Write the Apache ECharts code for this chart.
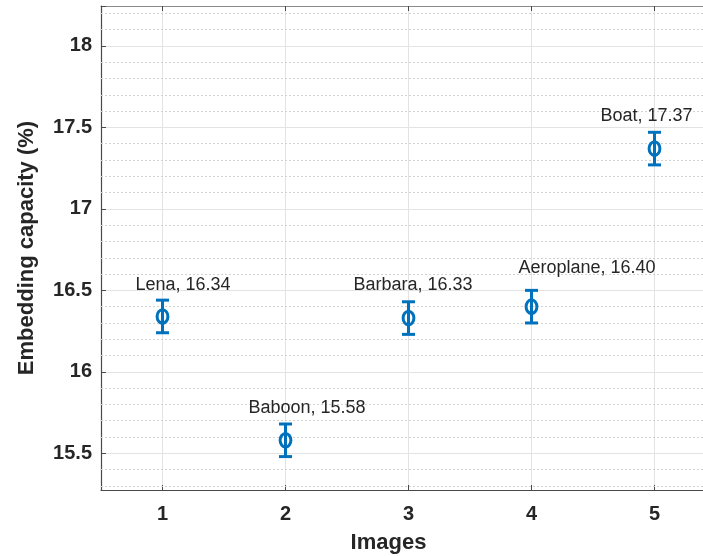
<!DOCTYPE html>
<html>
<head>
<meta charset="utf-8">
<script src="https://cdn.jsdelivr.net/npm/echarts@6/dist/echarts.min.js"></script>
<style>
  html, body { margin: 0; padding: 0; background: #fff; }
  #chart { width: 703px; height: 556px; }
</style>
</head>
<body>
<div id="chart"></div>
<script>
// data
const images = [1, 2, 3, 4, 5];
const imageNames = ['Lena', 'Baboon', 'Barbara', 'Aeroplane', 'Boat'];
const capacity = [16.34, 15.58, 16.33, 16.40, 17.37];
const errHalf = [0.1, 0.1, 0.1, 0.1, 0.1];
const yTicks = [15.5, 16, 16.5, 17, 17.5, 18];

// label placement (pixels, relative to the marker)
const labelDx = [-27, -37, -55, -13, -54];
const labelDy = [-31, -32, -33, -39, -33];

const FONT = "'Liberation Sans', Arial, Helvetica, sans-serif";
const BLUE = '#0072BD';
const AXIS = '#4a4a4a';

// dotted minor grid every 0.1 between the major ticks
const minorLines = [];
for (let k = 153; k <= 182; k++) {
  if (k % 5 !== 0) minorLines.push({ yAxis: k / 10 });
}

const points = images.map((x, i) => [x, capacity[i], errHalf[i], i]);

const chart = echarts.init(document.getElementById('chart'));

chart.setOption({
  animation: false,
  grid: { left: 101, width: 615, top: 6, bottom: 66, outerBoundsMode: 'none', containLabel: false },
  xAxis: [
    {
      type: 'value',
      min: 0.5,
      max: 5.5,
      splitNumber: 5,
      name: 'Images',
      nameLocation: 'middle',
      nameGap: 42,
      nameTextStyle: {
        fontFamily: FONT, fontSize: 22, fontWeight: 'bold', color: '#262626',
        padding: [0, 40, 0, 0]
      },
      axisLine: { lineStyle: { color: AXIS, width: 1.2 } },
      axisTick: { inside: true, length: 5, lineStyle: { color: AXIS } },
      axisLabel: {
        margin: 14,
        fontFamily: FONT, fontSize: 20, fontWeight: 'bold', color: '#262626',
        formatter: v => (images.indexOf(v) >= 0 ? String(v) : '')
      },
      splitLine: { show: true, lineStyle: { color: '#e3e3e3', width: 1 } }
    },
    {
      type: 'value',
      position: 'top',
      min: 0.5,
      max: 5.5,
      splitNumber: 5,
      axisLine: { show: true, lineStyle: { color: '#8a8a8a', width: 1.2 } },
      axisTick: { show: true, inside: true, length: 5, lineStyle: { color: AXIS } },
      axisLabel: { show: false },
      splitLine: { show: false }
    }
  ],
  yAxis: {
    type: 'value',
    min: 15.275,
    max: 18.245,
    splitNumber: 5,
    name: 'Embedding capacity (%)',
    nameLocation: 'middle',
    nameGap: 63,
    nameTextStyle: { fontFamily: FONT, fontSize: 22, fontWeight: 'bold', color: '#262626' },
    axisLine: { show: true, lineStyle: { color: AXIS, width: 1.2 } },
    axisTick: { show: true, inside: true, length: 5, lineStyle: { color: AXIS } },
    axisLabel: {
      margin: 9,
      fontFamily: FONT, fontSize: 20, fontWeight: 'bold', color: '#262626',
      formatter: v => {
        const hit = yTicks.find(t => Math.abs(t - v) < 1e-6);
        return hit === undefined ? '' : String(hit);
      }
    },
    splitLine: { show: true, lineStyle: { color: '#e3e3e3', width: 1 } }
  },
  series: [
    {
      type: 'scatter',
      data: points.map(p => [p[0], p[1]]),
      symbolSize: 0,
      silent: true,
      z: 1,
      markLine: {
        silent: true,
        symbol: ['none', 'none'],
        label: { show: false },
        lineStyle: { color: '#d2d2d2', width: 1, type: [2, 2] },
        data: minorLines
      }
    },
    {
      type: 'custom',
      data: points,
      z: 5,
      renderItem: (params, api) => {
        const x = api.value(0);
        const y = api.value(1);
        const e = api.value(2);
        const i = api.value(3);
        const c = api.coord([x, y]);
        const top = api.coord([x, y + e]);
        const bot = api.coord([x, y - e]);
        const cap = 6.5;
        const stroke = { stroke: BLUE, lineWidth: 3, fill: null };
        return {
          type: 'group',
          children: [
            { type: 'line', shape: { x1: c[0], y1: top[1], x2: c[0], y2: bot[1] }, style: stroke },
            { type: 'line', shape: { x1: c[0] - cap, y1: top[1], x2: c[0] + cap, y2: top[1] }, style: stroke },
            { type: 'line', shape: { x1: c[0] - cap, y1: bot[1], x2: c[0] + cap, y2: bot[1] }, style: stroke },
            { type: 'ellipse', shape: { cx: c[0], cy: c[1], rx: 5.4, ry: 6.8 }, style: { stroke: BLUE, lineWidth: 3, fill: 'none' } },
            {
              type: 'text',
              style: {
                text: imageNames[i] + ', ' + capacity[i].toFixed(2),
                x: c[0] + labelDx[i],
                y: c[1] + labelDy[i],
                font: '18px ' + FONT,
                fill: '#262626',
                textAlign: 'left',
                textVerticalAlign: 'middle',
                align: 'left',
                verticalAlign: 'middle'
              }
            }
          ]
        };
      }
    }
  ]
});
</script>
</body>
</html>
